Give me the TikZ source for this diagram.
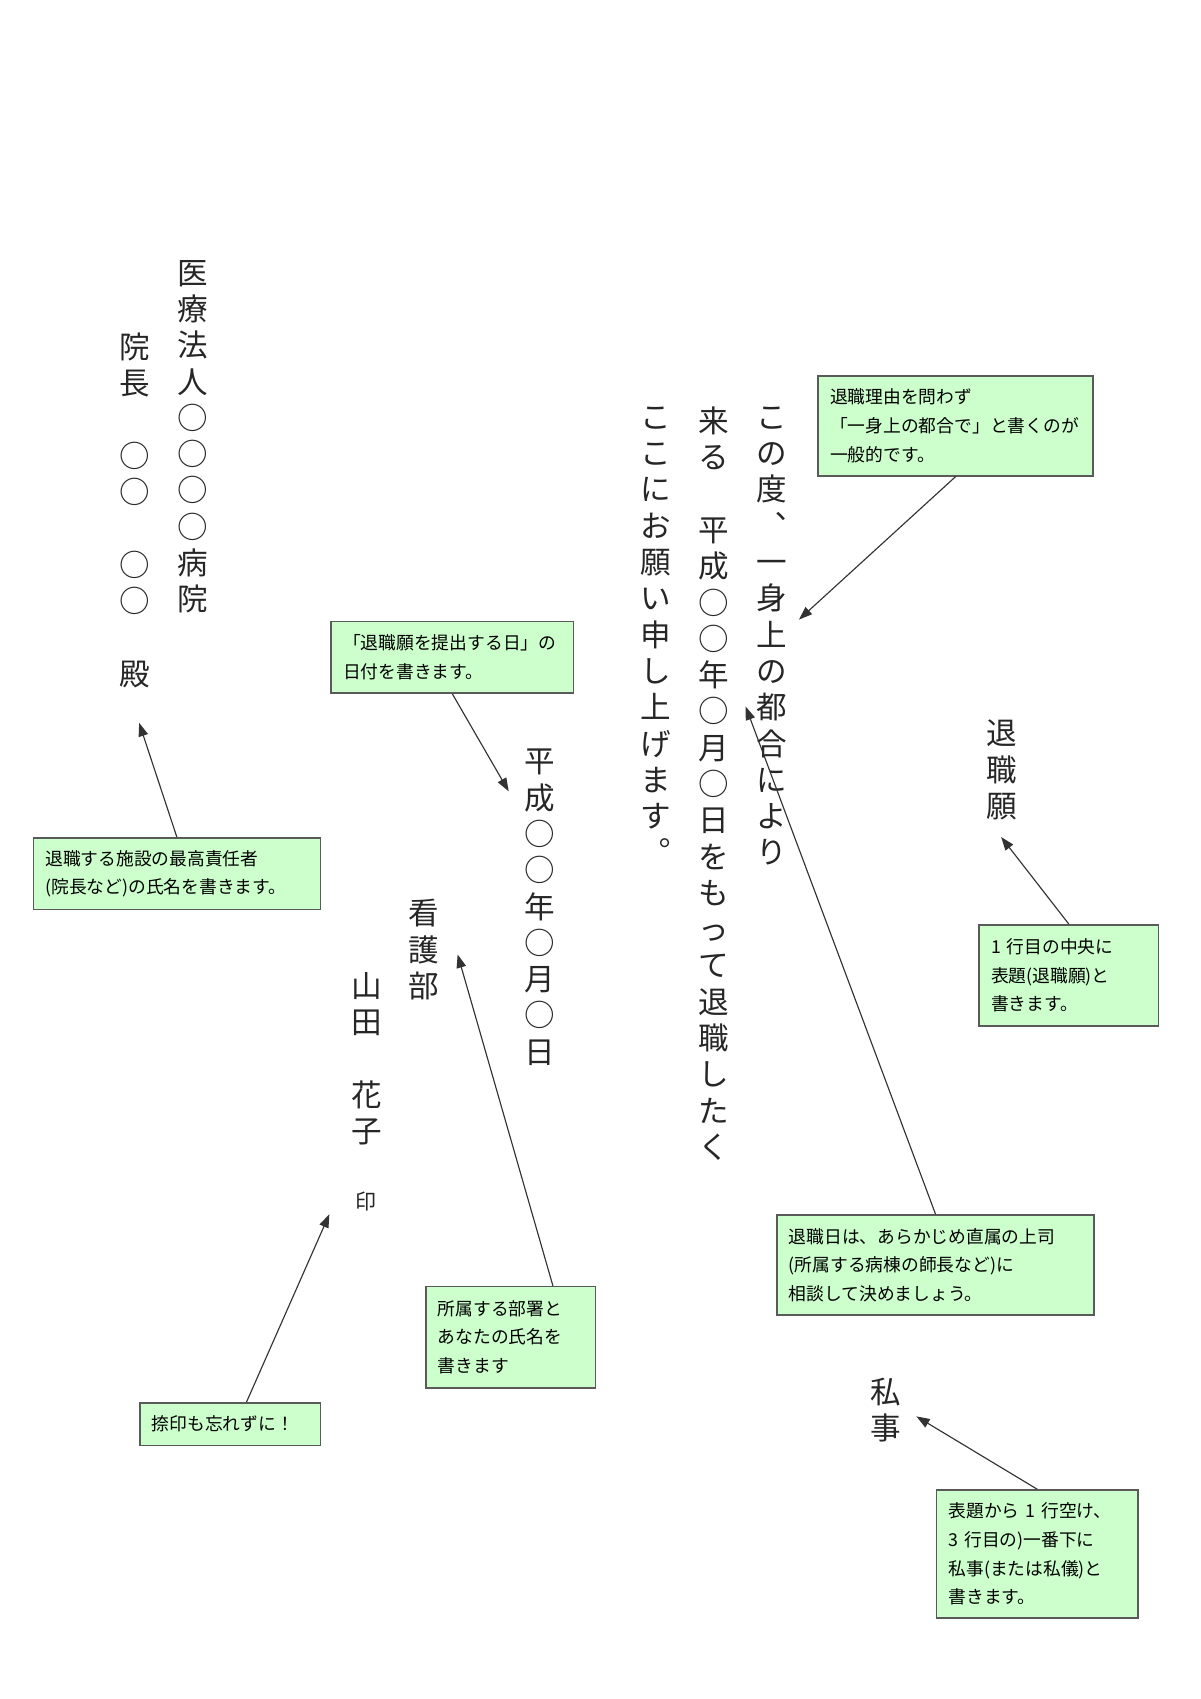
\documentclass[tikz,border=0pt]{standalone}
\usepackage{fontspec}
\setmainfont{Noto Sans CJK JP}
\usetikzlibrary{calc,positioning,arrows.meta}
\definecolor{notegreen}{RGB}{204,255,204}
\definecolor{noteline}{RGB}{90,90,90}
\tikzset{
    tate/.style={anchor=north, align=center, inner sep=0mm, font=\fontsize{16}{19}\selectfont, text=black!85},
    note/.style={draw=noteline, fill=notegreen, line width=0.8pt, anchor=north west, align=left, inner xsep=2.2mm, inner ysep=1.5mm, font=\fontsize{9.3}{15}\selectfont},
    pointer/.style={-{Triangle[length=7pt,width=5pt]}, line width=0.6pt, black!80}
}
\begin{document}
\begin{tikzpicture}[x=0.02cm, y=-0.02cm]
  \useasboundingbox (0,0) rectangle (1104,1563);
  % letter body, right to left
  \node[tate] (title) at (922,662) {退\\職\\願};
  \node[tate] (line1) at (710,374) {こ\\の\\度\\︑\\一\\身\\上\\の\\都\\合\\に\\よ\\り};
  \node[tate] (line2) at (657,374) {来\\る\\　\\平\\成\\○\\○\\年\\○\\月\\○\\日\\を\\も\\っ\\て\\退\\職\\し\\た\\く};
  \node[tate] (line3) at (603,374) {こ\\こ\\に\\お\\願\\い\\申\\し\\上\\げ\\ま\\す\\︒};
  \node[tate] (date) at (497,689) {平\\成\\○\\○\\年\\○\\月\\○\\日};
  \node[tate] (dept) at (390,827) {看\\護\\部};
  \node[tate] (name) at (337,894) {山\\田\\　\\花\\子};
  \node[tate, font=\fontsize{11}{13}\selectfont] (seal) at (337,1096) {印};
  \node[tate] (private) at (815,1267) {私\\事};
  \node[tate] (hospital) at (177,239) {医\\療\\法\\人\\○\\○\\○\\○\\病\\院};
  \node[tate] (director) at (124,306) {院\\長\\　\\○\\○\\　\\○\\○\\　\\殿};

  % notes
  \node[note, text width=4.62cm, minimum height=1.84cm] (n1) at (752,345) {退職理由を問わず\\「一身上の都合で」と書くのが\\一般的です。};
  \node[note, text width=4.02cm, minimum height=1.32cm] (n2) at (304,571) {「退職願を提出する日」の\\日付を書きます。};
  \node[note, text width=4.84cm, minimum height=1.32cm] (n3) at (30,770) {退職する施設の最高責任者\\(院長など)の氏名を書きます。};
  \node[note, text width=2.86cm, minimum height=1.86cm] (n4) at (900,850) {1 行目の中央に\\表題(退職願)と\\書きます。};
  \node[note, text width=5.4cm, minimum height=1.84cm] (n5) at (714,1117) {退職日は、あらかじめ直属の上司\\(所属する病棟の師長など)に\\相談して決めましょう。};
  \node[note, text width=2.68cm, minimum height=1.86cm] (n6) at (391,1183) {所属する部署と\\あなたの氏名を\\書きます};
  \node[note, text width=2.88cm, minimum height=0.78cm] (n7) at (128,1290) {捺印も忘れずに！};
  \node[note, text width=3.26cm, minimum height=2.36cm] (n8) at (861,1370) {表題から 1 行空け、\\3 行目の)一番下に\\私事(または私儀)と\\書きます。};

  % arrow ends
  \coordinate (t1) at (735,570);
  \coordinate (t2) at (468,728);
  \coordinate (t3) at (128,665);
  \coordinate (t4) at (921,770);
  \coordinate (t5) at (686,650);
  \coordinate (t6) at (421,878);
  \coordinate (t7) at (303,1117);
  \coordinate (t8) at (843,1303);

  \draw[pointer] (n1.south) -- (t1);
  \draw[pointer] (n2.south) -- (t2);
  \draw[pointer] (n3.north) -- (t3);
  \draw[pointer] (n4.north) -- (t4);
  \draw[pointer] (n5.north) -- (t5);
  \draw[pointer] ($(n6.north)+(39,0)$) -- (t6);
  \draw[pointer] ($(n7.north)+(15,0)$) -- (t7);
  \draw[pointer] (n8.north) -- (t8);
\end{tikzpicture}
\end{document}
